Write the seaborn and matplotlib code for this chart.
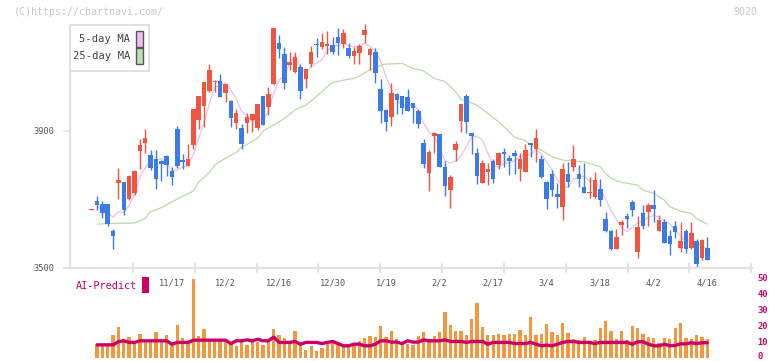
import numpy as np
import pandas as pd
import matplotlib
matplotlib.use("Agg")
import matplotlib.pyplot as plt
import matplotlib.transforms as mtransforms
from matplotlib.patches import Rectangle
import seaborn as sns

# daily candles (open, high, low, close)
opens = [3669, 3694, 3685, 3685, 3606, 3748, 3749, 3700, 3717, 3842, 3865, 3829, 3816, 3811, 3826, 3782,
         3905, 3814, 3798, 3858, 3931, 3972, 4017, 4044, 4045, 4011, 3987, 3923, 3909, 3923, 3931, 3909,
         4002, 3970, 4037, 4156, 4126, 4092, 4073, 4087, 4051, 4095, 4152, 4146, 4148, 4151, 4173, 4154,
         4141, 4119, 4128, 4180, 4122, 4131, 4022, 3961, 3941, 4007, 4002, 3998, 3980, 3958, 3865, 3777,
         3885, 3890, 3795, 3726, 3843, 3929, 4002, 3892, 3836, 3748, 3780, 3811, 3800, 3839, 3821, 3836,
         3788, 3780, 3863, 3846, 3817, 3749, 3773, 3715, 3678, 3773, 3795, 3773, 3736, 3719, 3707, 3729,
         3642, 3606, 3554, 3624, 3650, 3692, 3546, 3660, 3663, 3682, 3607, 3634, 3592, 3621, 3558, 3606,
         3556, 3578, 3528, 3558]
highs = [3671, 3709, 3694, 3686, 3612, 3790, 3750, 3772, 3783, 3875, 3905, 3843, 3843, 3814, 3829, 3795,
         3914, 3832, 3861, 3964, 4003, 4044, 4095, 4048, 4066, 4037, 3990, 3963, 3919, 3951, 3949, 3979,
         4003, 4029, 4201, 4180, 4144, 4131, 4129, 4095, 4081, 4148, 4170, 4185, 4192, 4173, 4200, 4197,
         4156, 4144, 4154, 4212, 4141, 4141, 4051, 3963, 4041, 4011, 4003, 4022, 3981, 3963, 3875, 3843,
         3897, 3891, 3811, 3770, 3870, 3979, 4007, 3893, 3851, 3814, 3807, 3816, 3839, 3850, 3829, 3843,
         3834, 3861, 3864, 3905, 3829, 3753, 3785, 3746, 3807, 3809, 3858, 3800, 3806, 3765, 3778, 3759,
         3663, 3609, 3614, 3639, 3660, 3697, 3650, 3682, 3689, 3726, 3655, 3641, 3609, 3636, 3634, 3614,
         3634, 3583, 3583, 3590]
lows = [3668, 3668, 3646, 3622, 3554, 3700, 3653, 3697, 3712, 3788, 3836, 3785, 3731, 3754, 3768, 3742,
        3790, 3787, 3797, 3848, 3905, 3912, 4013, 4014, 3999, 3985, 3912, 3904, 3848, 3892, 3897, 3902,
        3916, 3946, 4034, 4112, 4022, 4078, 4068, 3993, 4026, 4087, 4117, 4138, 4126, 4124, 4122, 4141,
        4112, 4095, 4095, 4158, 4078, 4041, 3923, 3900, 3915, 3949, 3949, 3958, 3923, 3909, 3792, 3724,
        3834, 3794, 3710, 3675, 3812, 3897, 3894, 3831, 3744, 3747, 3741, 3748, 3788, 3795, 3770, 3773,
        3754, 3779, 3822, 3809, 3763, 3671, 3709, 3675, 3639, 3736, 3783, 3736, 3718, 3704, 3704, 3681,
        3604, 3551, 3553, 3595, 3617, 3650, 3528, 3612, 3622, 3634, 3606, 3571, 3536, 3587, 3546, 3541,
        3553, 3502, 3522, 3521]
closes = [3670, 3684, 3660, 3627, 3592, 3755, 3668, 3768, 3782, 3858, 3880, 3792, 3759, 3802, 3800, 3765,
          3798, 3809, 3817, 3963, 4002, 4043, 4078, 4045, 4000, 4036, 3938, 3951, 3860, 3939, 3948, 3978,
          3917, 4007, 4200, 4138, 4041, 4102, 4115, 4017, 4080, 4129, 4150, 4159, 4154, 4131, 4156, 4185,
          4119, 4133, 4148, 4195, 4138, 4070, 3959, 3926, 4009, 3990, 3967, 3959, 3967, 3920, 3802, 3837,
          3892, 3795, 3739, 3765, 3861, 3978, 3926, 3884, 3768, 3807, 3788, 3759, 3836, 3832, 3811, 3826,
          3817, 3843, 3858, 3880, 3765, 3700, 3728, 3707, 3788, 3751, 3817, 3759, 3719, 3722, 3756, 3697,
          3606, 3554, 3590, 3634, 3642, 3668, 3619, 3622, 3682, 3671, 3639, 3572, 3568, 3604, 3578, 3554,
          3601, 3510, 3580, 3522]

# 25-day moving average, read at some candles (index, value)
ma25_idx = [1, 4, 8, 10, 11, 13, 15, 17, 19, 20, 22, 23, 25, 27, 28, 29, 31, 32, 34, 36, 38, 40, 42, 44,
            45, 47, 49, 50, 52, 54, 55, 58, 60, 62, 64, 66, 68, 69, 72, 74, 76, 78, 79, 81, 82, 84, 86,
            88, 92, 93, 95, 96, 97, 99, 102, 103, 105, 107, 108, 110, 112, 113, 115]
ma25_val = [3627, 3629, 3630, 3644, 3663, 3675, 3692, 3708, 3724, 3750, 3778, 3800, 3820, 3836, 3852,
            3860, 3878, 3899, 3917, 3936, 3961, 3975, 4000, 4029, 4041, 4048, 4053, 4060, 4078, 4092,
            4095, 4097, 4082, 4075, 4053, 4044, 4014, 3992, 3975, 3951, 3926, 3897, 3881, 3871, 3858,
            3843, 3824, 3814, 3809, 3804, 3795, 3775, 3761, 3749, 3741, 3726, 3717, 3697, 3678, 3665,
            3658, 3643, 3627]

# volume and AI-Predict line (lower panel)
volume = [8.0, 7.6, 7.4, 14.2, 19.1, 11.7, 13.0, 9.7, 14.8, 10.0, 11.0, 16.0, 9.7, 14.2, 10.0, 20.4,
          12.3, 10.5, 48.8, 13.6, 17.9, 11.7, 11.0, 11.0, 10.0, 9.0, 7.4, 9.7, 8.0, 11.0, 9.7, 8.0,
          10.5, 17.9, 14.2, 12.3, 10.0, 16.7, 9.0, 5.0, 7.4, 4.3, 6.2, 8.6, 10.5, 8.6, 7.4, 7.4, 9.3,
          10.5, 12.3, 13.6, 13.0, 19.8, 13.0,
          16.7, 11.7, 8.6, 8.6, 8.0, 13.6, 16.0, 11.7, 13.6, 16.0, 28.4, 20.4, 16.7, 16.7, 14.2, 24.1,
          34.0, 19.1, 14.2, 14.2, 14.8, 14.2, 14.8, 14.8, 17.3, 14.2, 25.3, 14.2, 14.8, 21.0, 16.0,
          14.2, 21.6, 15.4, 11.7, 11.1, 13.0, 10.5, 11.1, 18.5, 22.8, 16.7, 11.7, 16.7, 11.1, 19.8,
          18.5, 14.8, 13.0, 12.3, 9.3, 12.3, 11.7, 18.5, 21.6, 12.3, 11.7, 14.2, 13.0, 11.7]
ai_predict = [8.0, 8.0, 8.0, 8.0, 10.0, 10.5, 9.5, 9.5, 10.5, 10.5, 10.5, 10.5, 10.5, 10.5, 8.4, 9.5,
              9.5, 9.5, 10.9, 10.9, 10.9, 10.9, 10.9, 10.9, 10.9, 8.8, 10.5, 10.5, 11.1, 10.5, 11.5,
              10.5, 10.5, 12.8, 9.5, 9.5, 9.5, 10.1, 8.4, 9.5, 9.5, 9.5, 8.8, 9.5, 10.1, 8.8, 7.4, 7.4,
              8.4, 8.4, 7.4, 7.4, 8.4, 10.5, 10.5,
              9.7, 9.7, 8.8, 10.5, 9.7, 9.7, 11.1, 10.5, 10.5, 10.5, 11.1, 10.1, 10.1, 10.1, 9.5, 10.1,
              10.1, 10.1, 8.4, 9.5, 9.5, 9.5, 9.5, 8.8, 8.8, 8.8, 9.5, 8.4, 7.4, 7.8, 7.4, 8.4, 9.5,
              10.1, 10.1, 9.5, 9.5, 9.5, 8.8, 9.5, 9.5, 9.5, 9.5, 9.5, 9.5, 8.4, 9.9, 9.9, 8.4, 7.4,
              7.4, 8.4, 7.4, 7.6, 8.6, 8.6, 9.3, 8.8, 9.3, 9.3]

date_idx = [15, 25, 35, 45, 55, 65, 75, 85, 95, 105, 115]
date_labels = ["11/17", "12/2", "12/16", "12/30", "1/19", "2/2", "2/17", "3/4", "3/18", "4/2", "4/16"]

RED = "#f2553f"
BLUE = "#3b7be8"
GRID = "#e2e2e2"
MAGENTA = "#cc0066"
MONO = "DejaVu Sans Mono"

sns.set_theme(style="white")
plt.rcParams["font.family"] = [MONO, "DejaVu Sans"]

W, H = 772, 361
fig = plt.figure(figsize=(W / 100, H / 100), dpi=100)


def fx(px):
    return px / W


def fy(py):
    return 1 - py / H


n = len(closes)
x = np.arange(n)
o = np.array(opens, float)
c = np.array(closes, float)
hi = np.array(highs, float)
lo = np.array(lows, float)
up = c >= o
cols = np.where(up, RED, BLUE)

xmin, xmax = -4.05, 123.35

# ---- price panel
ax = fig.add_axes([fx(70), fy(267.5), fx(752) - fx(70), fy(20) - fy(267.5)])
ax.vlines(x, lo, hi, colors=cols, linewidth=1.0, zorder=2)
body = np.maximum(np.abs(c - o), 2.5)
ax.bar(x, body, bottom=np.minimum(o, c), width=0.85, color=cols, linewidth=0, zorder=3)

ma5 = pd.Series(c).rolling(5, min_periods=1).mean()
ma_df = pd.DataFrame({"i": x[1:], "ma5": ma5.values[1:]})
sns.lineplot(data=ma_df, x="i", y="ma5", ax=ax, color="#ecc0ec", linewidth=0.9, zorder=1)
sns.lineplot(x=ma25_idx, y=ma25_val, ax=ax, color="#b8dca8", linewidth=0.9, zorder=1)

ax.set_xlim(xmin, xmax)
ax.set_ylim(3500, 4224)
ax.set_xlabel("")
ax.set_ylabel("")
for s in ["top", "right"]:
    ax.spines[s].set_visible(False)
for s in ["left", "bottom"]:
    ax.spines[s].set_color(GRID)
    ax.spines[s].set_linewidth(1.6)
ax.spines["left"].set_bounds(3500, 4224 - (71 - 20) * 2.927)
ax.set_xticks(np.arange(7.7, 124, 11.55))
ax.set_xticklabels([])
ax.tick_params(axis="x", direction="inout", length=7, width=1.4, color=GRID, bottom=True)
ax.set_yticks([3500, 3900])
ax.set_yticklabels(["3500", "3900"])
ax.tick_params(axis="y", direction="out", length=5, width=1.2, color=GRID, left=True,
               labelsize=6.2, labelcolor="#555555", pad=6)
ax.patch.set_alpha(0)

# ---- volume panel
axv = fig.add_axes([fx(70), fy(357.7), fx(752) - fx(70), fy(277.3) - fy(357.7)])
vx = np.arange(1, len(volume) + 1)
axv.bar(vx, volume, width=0.62, color="#f3973f", linewidth=0, zorder=2)
ai_df = pd.DataFrame({"i": vx, "ai": ai_predict})
sns.lineplot(data=ai_df, x="i", y="ai", ax=axv, color=MAGENTA, linewidth=2.4, zorder=3)
axv.set_xlim(xmin, xmax)
axv.set_ylim(0, 50)
axv.set_xlabel("")
axv.set_ylabel("")
for s in axv.spines.values():
    s.set_visible(False)
axv.set_xticks([])
axv.yaxis.tick_right()
axv.set_yticks([0, 10, 20, 30, 40, 50])
axv.tick_params(axis="y", length=0, pad=4, labelsize=6.3, labelcolor=MAGENTA)
for t in axv.get_yticklabels():
    t.set_fontweight("bold")
# keep the bottom "0" inside the picture
zero_lab = axv.get_yticklabels()[0]
zero_lab.set_transform(zero_lab.get_transform() +
                       mtransforms.ScaledTranslation(0, 2.5 / 100, fig.dpi_scale_trans))
axv.patch.set_alpha(0)

trans = mtransforms.blended_transform_factory(axv.transData, fig.transFigure)
for xi, lab in zip(date_idx, date_labels):
    axv.text(xi, fy(282.5), lab, transform=trans, ha="center", va="center",
             fontsize=6.2, color="#555555")

# ---- figure texts and legends
fig.text(fx(14), fy(12), "(C)https://chartnavi.com/", fontsize=7.2, color="#c8c8c8",
         ha="left", va="center")
fig.text(fx(757), fy(12), "9020", fontsize=7.2, color="#c8c8c8", ha="right", va="center")

fig.patches.append(Rectangle((fx(70.3), fy(71)), fx(148.7) - fx(70.3), (71 - 24.7) / H,
                             transform=fig.transFigure, facecolor="white", edgecolor="#dcdcdc",
                             linewidth=1.2, zorder=5))
for ytop, ybot, lab, col in [(31, 46.5, "5-day MA", "#efc0ef"), (48.3, 63.5, "25-day MA", "#bfe0b0")]:
    fig.patches.append(Rectangle((fx(136.3), fy(ybot)), fx(142.7) - fx(136.3), (ybot - ytop) / H,
                                 transform=fig.transFigure, facecolor=col, edgecolor="#555555",
                                 linewidth=1.0, zorder=6))
    fig.text(fx(130), fy((ytop + ybot) / 2), lab, fontsize=7.6, color="#444444",
             ha="right", va="center", zorder=7)

fig.text(fx(76), fy(286), "AI-Predict", fontsize=7.4, color=MAGENTA, ha="left", va="center")
fig.patches.append(Rectangle((fx(142.3), fy(292.7)), fx(149) - fx(142.3), (292.7 - 276.7) / H,
                             transform=fig.transFigure, facecolor=MAGENTA, edgecolor="none"))

fig.savefig("out.png", dpi=100)
